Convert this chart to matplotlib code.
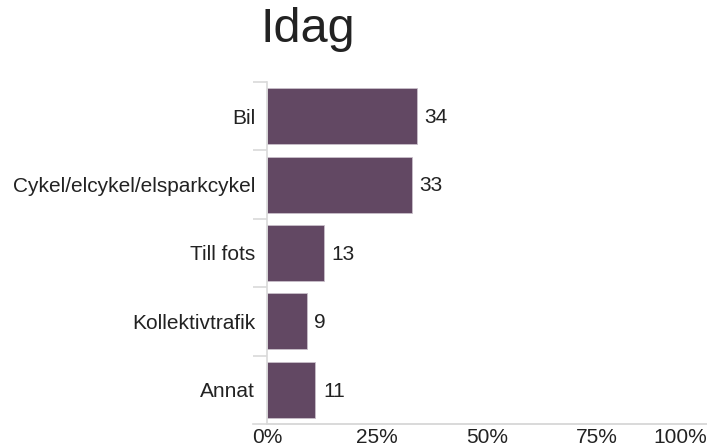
import numpy as np
import matplotlib.pyplot as plt

categories = ["Bil", "Cykel/elcykel/elsparkcykel", "Till fots", "Kollektivtrafik", "Annat"]
values = [34, 33, 13, 9, 11]
xticks = [0, 25, 50, 75, 100]
xticklabels = ["0%", "25%", "50%", "75%", "100%"]

plt.rcParams['font.family'] = ['Liberation Sans', 'DejaVu Sans']

fig = plt.figure(figsize=(7.07, 4.47), dpi=100)
ax = fig.add_axes([267/707, 1-424/447, 440/707, (424-82)/447])

bar_col = "#624863"
grid_col = "#d9d9d9"
y = np.arange(len(categories))
ax.barh(y, values, height=0.82, color=bar_col, edgecolor="#c9bfca", linewidth=0.6)
for yi, v in zip(y, values):
    ax.text(v + 1.7, yi + 0.02, str(v), va="center", ha="left", fontsize=15, color="#222222")

ax.set_xlim(0, 100)
ax.set_ylim(len(categories) - 0.5, -0.5)

# category labels, separators as minor ticks
ax.set_yticks(y)
ax.set_yticklabels(categories, fontsize=15, color="#222222")
ax.tick_params(axis="y", which="major", length=0, pad=8.5)
ax.set_yticks(np.arange(len(categories)) - 0.5, minor=True)
ax.tick_params(axis="y", which="minor", length=10, color=grid_col, width=1.2)

ax.set_xticks(xticks)
ax.set_xticklabels(xticklabels, fontsize=15, color="#222222")
ax.tick_params(axis="x", length=0, pad=3)
ax.get_xticklabels()[-1].set_ha("right")
ax.get_xticklabels()[-1].set_x(100)

for s in ["top", "right"]:
    ax.spines[s].set_visible(False)
ax.spines["left"].set_color(grid_col)
ax.spines["left"].set_linewidth(1.2)
ax.spines["bottom"].set_color(grid_col)
ax.spines["bottom"].set_linewidth(1.2)
ax.plot([-0.032, 1.0], [0, 0], transform=ax.transAxes, color=grid_col, lw=1.2, clip_on=False)

fig.text(308/707, 1-30/447, "Idag", fontsize=35, ha="center", va="center", color="#222222")

fig.savefig("out.png", dpi=100)
